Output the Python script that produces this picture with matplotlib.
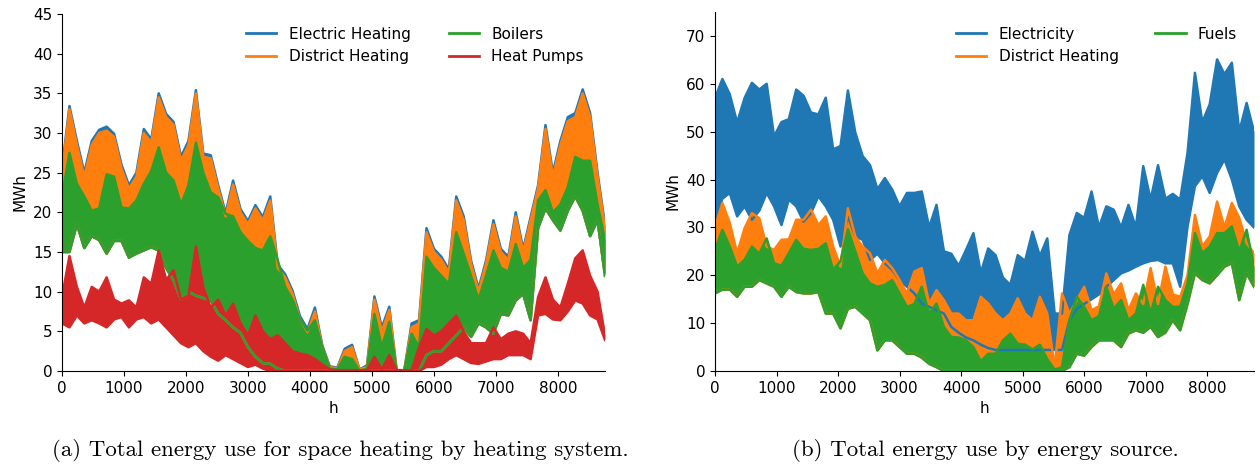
import numpy as np
import matplotlib
matplotlib.use("Agg")
import matplotlib.pyplot as plt
from matplotlib.lines import Line2D

hours = np.arange(0, 8761, 120)

# ---------- (a) space heating by heating system ----------
elec_heat_up = [25.5, 33.4, 29, 25, 29, 30.4, 30.8, 29.9, 26, 23.4, 25, 30.5, 29.2, 35, 32.4, 31.4, 27, 29,
                35.4, 27.4, 27.2, 23.4, 19.9, 24, 20.4, 18.9, 20.9, 19.4, 22, 13.4, 12.2, 10.1, 6.9, 5.3, 8,
                3.2, 0.6, 0.4, 2.8, 3.3, 0.2, 0.7, 9.4, 5.5, 8.1, 0, 0, 6, 6.4, 18, 15.4, 14.4, 12.8, 22,
                19.5, 13.9, 10.4, 13.9, 19, 15.4, 14.4, 20, 15.4, 19.4, 23.4, 31, 25, 29, 32, 32.5, 35.5,
                32.5, 25, 18.4]
district_heat_up = [25, 33, 28.5, 24.5, 28.5, 30, 30.3, 29.5, 25.5, 23, 24.5, 30, 28.8, 34.5, 32, 31, 26.5,
                    28.5, 35, 27, 26.8, 23, 19.5, 23.5, 20, 18.5, 20.5, 19, 21.5, 13, 11.8, 9.7, 6.5, 4.9,
                    7.5, 3, 0.5, 0.3, 2.5, 3, 0.2, 0.5, 9, 5, 7.7, 0, 0, 5.5, 6, 17.5, 15, 14, 12.4, 21.5,
                    19, 13.5, 10, 13.5, 18.5, 15, 14, 19.5, 15, 19, 23, 30.5, 24.5, 28.5, 31.5, 32, 35, 32,
                    24.5, 18]
boilers_up = [22, 27.5, 23.6, 22, 20.2, 20.5, 24.8, 24.5, 20.6, 20.5,
              21.5, 23.6, 25.2, 28.2, 25, 24, 21, 23.4, 28.8, 25,
              22.5, 21.9, 19.8, 19.5, 17.5, 16.4, 15.5, 15.2, 17, 14,
              10.6, 9, 6.5, 5.1, 6.4, 3, 0.3, 0.2, 1.8, 1.5,
              0, 0.3, 7.2, 3, 6.2, 0, 0, 4.7, 3, 14.4,
              13, 12, 11, 17.5, 14.8, 12, 9, 12, 15.2, 13,
              12.5, 16, 13, 14, 21.5, 22.8, 20, 21, 23.2, 27,
              26.5, 26.5, 21, 16.5]
boilers_lo = [15, 15, 18.5, 15.5, 17, 16.5, 14.8, 16.4, 16.4, 14.3, 14.8, 15.2, 15.6, 15.2, 13, 11.4, 9, 10,
              9.5, 9.2, 8.9, 7.2, 6.4, 5.5, 4.8, 3, 1.8, 1, 0.9, 0.3,
              0, 0, 0, 0, 0, 0, 0, 0, 0, 0, 0, 0, 0, 0, 0, 0, 0, 0, 0,
              2, 2.5, 2.5, 3.5, 4.5, 5.5, 4.3, 6, 5.5, 4.7, 7.2, 7, 8.9, 9.7, 6.4, 18, 20.5, 19, 17.7,
              20.2, 22, 20.2, 17, 19, 12]
heat_pumps_up = [9.3, 14.5, 10.6, 8, 10.6, 10, 11.8, 9, 8.5, 8.9, 8, 11.8, 11, 15.2, 11.5, 12.7, 9, 9.5,
                 15.7, 10.5, 8, 9, 7, 8.5, 6, 4.5, 7, 5, 4, 4.5, 3.5, 2.5, 2.2, 2, 1.5, 0.8, 0.2, 0.1, 0.1,
                 0.1, 0.1, 0.1, 1.8, 0.2, 2, 0.1, 0.1, 0.1, 3, 5.3, 4.5, 5, 6, 7, 5, 3.5, 3.5, 3.5, 5.5, 4,
                 4.7, 5, 4.7, 3.5, 9.3, 11.8, 9, 8, 11, 14.2, 15.2, 12, 10, 4.5]
heat_pumps_lo = [6, 5.5, 7, 6, 6.4, 6, 5.5, 6.5, 6.8, 5.5, 6.5, 6.8, 6, 6.5, 5.5, 4.5, 3.5, 3, 3.5, 2.5,
                 1.8, 1.3, 2, 1.5, 1, 0.5, 0.8, 0.3,
                 0, 0, 0, 0, 0, 0, 0, 0, 0, 0, 0, 0, 0, 0, 0, 0, 0, 0, 0, 0, 0,
                 0.5, 0.5, 0.8, 1.5, 2, 1.5, 1, 0.9, 1.2, 1.5, 1.5, 2, 2, 2, 1.5, 7, 7.2, 6.5, 6.4, 7.5,
                 8.9, 8.5, 7, 6.5, 3.9]

# ---------- (b) energy use by energy source ----------
electricity_up = [57, 61, 57.8, 51.9, 57, 60.2, 58.8, 60, 49, 52, 52.6, 58.8, 57.5, 54, 53.6, 57.1, 46.3,
                  47, 58.6, 49.8, 44.9, 43, 38, 40.3, 37.9, 34.4, 37.2, 37.2, 37.5, 30, 34.7, 25, 24.5, 22,
                  25.3, 28.8, 20.5, 25.6, 24.2, 19.5, 18, 24.2, 23, 29.1, 24, 27.7, 12, 12, 28.4, 33, 32,
                  37.5, 30, 34.4, 33.7, 30, 34.7, 30, 42.8, 35.8, 43, 36, 37, 35.8, 45.6, 62.3, 52, 55.7,
                  65.1, 62, 64.4, 50, 56, 50]
electricity_lo = [31.6, 36, 37.2, 32.3, 34.4, 31.6, 33.5, 37.2, 34.4, 30.5, 35.8, 34.4, 31.2, 33, 36.5,
                  34.4, 31.6, 26, 32.3, 28.1, 27.4, 23.2, 24.5, 22.5, 21.1, 19, 17.6, 16.2, 14.1, 13.4,
                  12.7, 12, 9.2, 8, 7, 6.4, 5.5, 4.8, 4.4, 4.4, 4.4, 4.4, 4.4, 4.4, 4.4, 4.4, 4.4, 4.4,
                  10.6, 13, 14, 15, 16, 17.6, 19, 20.4, 21, 21.8, 22.5, 23, 23.2, 22.5, 22.5, 17.6, 30.2,
                  38.6, 40.7, 37.2, 41.4, 44.2, 40, 34.4, 31.6, 30]
district_up = [30.2, 35.1, 30.9, 24.6, 29.8, 33, 31.9, 26, 25.3, 27.4, 27.5, 31.6, 31.6, 33.7, 30.5, 32.3,
               26, 21.8, 34, 28.1, 26, 24.6, 20.4, 23.2, 21.5, 19, 16.2, 20.8, 21.5, 14.1, 16.9, 14.8, 12,
               12, 10.6, 10.6, 15.5, 14.1, 12, 10.6, 12, 15.2, 12, 10.6, 15.5, 12, 0.8, 16.2, 12, 14.8,
               17.6, 12.7, 13.5, 20.4, 16, 18.3, 12.7, 16.2, 14, 21.5, 14, 21.8, 16, 15.5, 20, 32.6, 26,
               28.1, 35.4, 30, 35.1, 32, 26.7, 24.6]
fuels_up = [25.3, 29.5, 26, 21.8, 23.2, 26, 24.5, 27.7, 22.5, 22, 24.6, 27.4, 25.5, 25.3, 25.5, 26.7, 21.1,
            23, 29.6, 25, 20.4, 18.3, 17.6, 18, 19, 16.2, 13.4, 14, 17.6, 12, 14.1, 9.2, 7.1, 7, 6.4, 5,
            2, 3.6, 3.6, 6.4, 7.8, 5.7, 5.5, 4.5, 5.5, 2.5, 0.3, 0.8, 10.6, 15.5, 13.4, 10.6, 11.5, 17.6,
            13, 14.8, 10.6, 12, 18, 12, 17.6, 14.8, 13.4, 13.4, 18.3, 28.8, 24.6, 26, 28.8, 28.8, 30.2,
            25, 29.5, 21.8]
fuels_lo = [16.2, 17, 17, 15.5, 17.6, 17.6, 19, 18.3, 17.6, 15.5, 17.6, 16.5, 16.2, 16.2, 16.5, 12, 12, 8.9,
            13, 13.4, 12, 10.6, 4.3, 6.4, 6.4, 5, 3.6, 3.6, 2.8, 1.5, 0.8,
            0, 0, 0, 0, 0, 0, 0, 0, 0, 0, 0, 0, 0, 0, 0, 0, 0,
            0.8, 3.6, 3.2, 5, 6.4, 6.4, 6.4, 5, 7.8, 8.5, 8, 9.2, 7.1, 8, 10.6, 8.5, 14, 20.4, 19, 18.3,
            20, 21.8, 22.5, 14.8, 20.4, 17.6]

labels_a = ["Electric Heating", "District Heating", "Boilers", "Heat Pumps"]
labels_b = ["Electricity", "District Heating", "Fuels"]
xticks = [0, 1000, 2000, 3000, 4000, 5000, 6000, 7000, 8000]
caption_a = "(a) Total energy use for space heating by heating system."
caption_b = "(b) Total energy use by energy source."

C_BLUE, C_ORANGE, C_GREEN, C_RED = "#1f77b4", "#ff7f0e", "#2ca02c", "#d62728"
FS = 11

fig = plt.figure(figsize=(12.6, 4.66), dpi=100)
axL = fig.add_axes([62 / 1260, 1 - 371 / 466, 543 / 1260, 357 / 466])
axR = fig.add_axes([715 / 1260, 1 - 371 / 466, 539 / 1260, 359 / 466])


def band(ax, lo, up, color):
    ax.fill_between(hours, lo, up, color=color, lw=0)
    ax.plot(hours, up, color=color, lw=1.8)
    ax.plot(hours, lo, color=color, lw=1.8)


band(axL, boilers_lo, elec_heat_up, C_BLUE)
band(axL, boilers_lo, district_heat_up, C_ORANGE)
band(axL, boilers_lo, boilers_up, C_GREEN)
band(axL, heat_pumps_lo, heat_pumps_up, C_RED)

band(axR, electricity_lo, electricity_up, C_BLUE)
band(axR, fuels_lo, district_up, C_ORANGE)
band(axR, fuels_lo, fuels_up, C_GREEN)

for ax in (axL, axR):
    ax.set_xlim(0, 8760)
    ax.set_xticks(xticks)
    ax.spines["top"].set_visible(False)
    ax.spines["right"].set_visible(False)
    ax.tick_params(labelsize=FS)
    ax.set_xlabel("h", fontsize=FS)
    ax.set_ylabel("MWh", fontsize=FS)

axL.set_ylim(0, 45)
axL.set_yticks(range(0, 46, 5))
axR.set_ylim(0, 75)
axR.set_yticks(range(0, 71, 10))

hA = [Line2D([], [], color=c, lw=2) for c in (C_BLUE, C_ORANGE, C_GREEN, C_RED)]
axL.legend(hA, labels_a, ncol=2, frameon=False, fontsize=FS, loc="upper left",
           bbox_to_anchor=(232 / 1260, 1 - 13 / 466), bbox_transform=fig.transFigure,
           columnspacing=2.5)
hB = [Line2D([], [], color=c, lw=2) for c in (C_BLUE, C_ORANGE, C_GREEN)]
axR.legend(hB, labels_b, ncol=2, frameon=False, fontsize=FS, loc="upper left",
           bbox_to_anchor=(942 / 1260, 1 - 13 / 466), bbox_transform=fig.transFigure,
           columnspacing=2.4)

fig.text(340 / 1260, 1 - 451 / 466, caption_a, ha="center", va="center", fontsize=16.5, family="cmr10")
fig.text(985 / 1260, 1 - 451 / 466, caption_b, ha="center", va="center", fontsize=16.5, family="cmr10")

fig.savefig("out.png", dpi=100)
